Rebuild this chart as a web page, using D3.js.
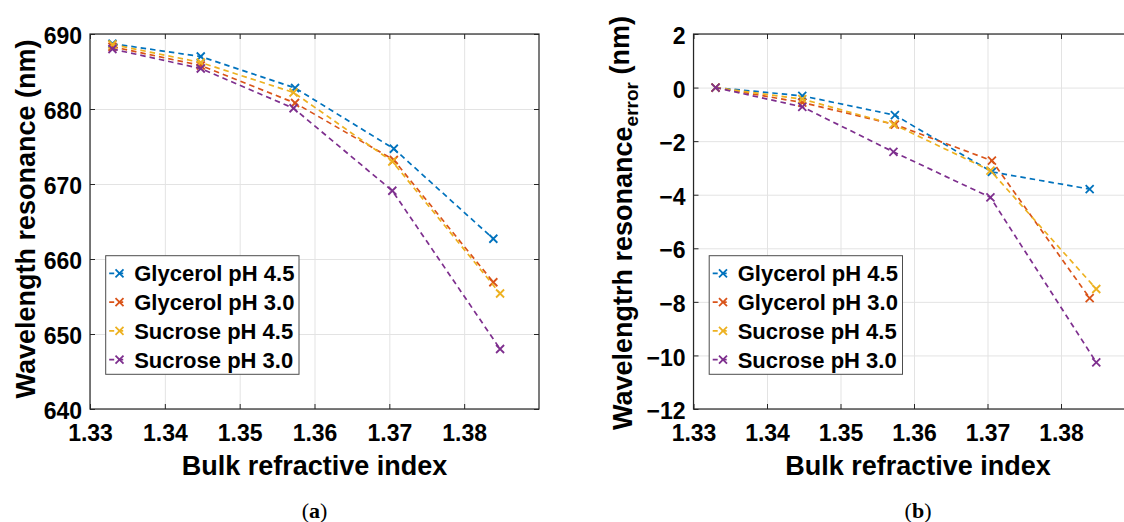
<!DOCTYPE html>
<html><head><meta charset="utf-8">
<script src="https://cdn.jsdelivr.net/npm/d3@7"></script>
<style>
body{margin:0;background:#fff;}
svg{display:block;font-family:"Liberation Sans",Arial,Helvetica,sans-serif;}
</style>
</head><body><svg id="c" width="1124" height="522"></svg>
<script>
// ---- data ----
const seriesNames = ["Glycerol pH 4.5", "Glycerol pH 3.0", "Sucrose pH 4.5", "Sucrose pH 3.0"];
const seriesColors = ["#0072BD", "#D95319", "#EDB120", "#7E2F8E"];
const xGlycerol = [1.333, 1.3448, 1.3574, 1.3706, 1.3839];
const xSucrose  = [1.333, 1.3448, 1.3572, 1.3704, 1.3848];

// panel (a): wavelength resonance (nm)
const resGly45 = [688.7, 687.0, 682.8, 674.7, 662.7];
const resGly30 = [688.3, 685.8, 680.8, 673.2, 656.9];
const resSuc45 = [688.6, 686.2, 682.2, 673.0, 655.4];
const resSuc30 = [688.0, 685.4, 680.1, 669.1, 648.0];

// panel (b): wavelength resonance error (nm)
const errGly45 = [0, -0.31, -1.03, -3.15, -3.79];
const errGly30 = [0, -0.56, -1.38, -2.73, -7.86];
const errSuc45 = [0, -0.43, -1.37, -3.10, -7.52];
const errSuc30 = [0, -0.72, -2.40, -4.10, -10.26];

const xTicks  = [1.33, 1.34, 1.35, 1.36, 1.37, 1.38];
const yTicksA = [640, 650, 660, 670, 680, 690];
const yTicksB = [-12, -10, -8, -6, -4, -2, 0, 2];
const xLabel = "Bulk refractive index";

const svg = d3.select("#c");
const TXT = "#000";
const AX = "#262626";

function drawPanel(o) {
  const g = svg.append("g");
  const x = d3.scaleLinear().domain([1.33, 1.39]).range([o.left, o.right]);
  const y = d3.scaleLinear().domain(o.yDomain).range([o.bottom, o.top]);
  const W = o.right - o.left, H = o.bottom - o.top;

  // grid
  g.append("g").attr("transform", `translate(0,${o.bottom})`)
    .call(d3.axisBottom(x).tickValues(xTicks).tickSize(-H).tickFormat(""))
    .call(s => { s.select(".domain").remove(); s.selectAll("line").attr("stroke", "#e3e3e3").attr("stroke-width", 1); });
  g.append("g").attr("transform", `translate(${o.left},0)`)
    .call(d3.axisLeft(y).tickValues(o.yTicks).tickSize(-W).tickFormat(""))
    .call(s => { s.select(".domain").remove(); s.selectAll("line").attr("stroke", "#e3e3e3").attr("stroke-width", 1); });

  // ticks (inward) + labels
  const fixAxis = s => { s.select(".domain").remove(); s.selectAll("line").attr("stroke", AX).attr("stroke-width", 1); };
  g.append("g").attr("transform", `translate(0,${o.bottom})`)
    .call(d3.axisBottom(x).tickValues(xTicks).tickSizeInner(-5).tickSizeOuter(0).tickPadding(16).tickFormat(d3.format(".2f")))
    .call(fixAxis)
    .call(s => s.selectAll("text").attr("fill", TXT).attr("font-size", 23).attr("font-weight", "bold")
      .attr("font-family", '"Liberation Sans",Arial,sans-serif'));
  g.append("g").attr("transform", `translate(0,${o.top})`)
    .call(d3.axisTop(x).tickValues(xTicks).tickSizeInner(-5).tickSizeOuter(0).tickFormat(""))
    .call(fixAxis);
  g.append("g").attr("transform", `translate(${o.left},0)`)
    .call(d3.axisLeft(y).tickValues(o.yTicks).tickSizeInner(-5).tickSizeOuter(0).tickPadding(8).tickFormat(d3.format("d")))
    .call(fixAxis)
    .call(s => s.selectAll("text").attr("fill", TXT).attr("font-size", 23).attr("font-weight", "bold").attr("dy", "0.42em")
      .attr("font-family", '"Liberation Sans",Arial,sans-serif'));
  g.append("g").attr("transform", `translate(${o.right},0)`)
    .call(d3.axisRight(y).tickValues(o.yTicks).tickSizeInner(-5).tickSizeOuter(0).tickFormat(""))
    .call(fixAxis);

  // box
  g.append("rect").attr("x", o.left).attr("y", o.top).attr("width", W).attr("height", H)
    .attr("fill", "none").attr("stroke", AX).attr("stroke-width", 1.2);

  // series
  const line = d3.line().x(d => x(d[0])).y(d => y(d[1]));
  o.series.forEach((vals, i) => {
    const xs = i < 2 ? xGlycerol : xSucrose;
    const pts = vals.map((v, j) => [xs[j], v]);
    g.append("path").datum(pts).attr("d", line).attr("fill", "none")
      .attr("stroke", seriesColors[i]).attr("stroke-width", 1.7).attr("stroke-dasharray", "5.5,4");
    g.selectAll(null).data(pts).enter().append("path")
      .attr("transform", d => `translate(${x(d[0])},${y(d[1])})`)
      .attr("d", "M-4,-4L4,4M-4,4L4,-4")
      .attr("stroke", seriesColors[i]).attr("stroke-width", 1.8).attr("fill", "none");
  });

  // x label
  g.append("text").attr("x", (o.left + o.left + 449) / 2).attr("y", 475)
    .attr("text-anchor", "middle").attr("font-size", 27).attr("font-weight", "bold").attr("fill", TXT)
    .text(xLabel);

  // y label
  const yl = g.append("text").attr("transform", `translate(${o.yLabelX},${o.yLabelY}) rotate(-90)`)
    .attr("text-anchor", "middle").attr("font-size", 27).attr("font-weight", "bold").attr("fill", TXT);
  o.yLabel(yl);

  // legend
  const lg = g.append("g").attr("transform", `translate(${o.left + 15.7},255.7)`);
  lg.append("rect").attr("width", 193.3).attr("height", 118.6).attr("fill", "#fff")
    .attr("stroke", "#4d4d4d").attr("stroke-width", 1);
  seriesNames.forEach((nm, i) => {
    const cy = 17.6 + i * 28.8;
    lg.append("line").attr("x1", 3.5).attr("x2", 21).attr("y1", cy).attr("y2", cy)
      .attr("stroke", seriesColors[i]).attr("stroke-width", 1.7).attr("stroke-dasharray", "5,4");
    lg.append("path").attr("transform", `translate(13.8,${cy})`).attr("d", "M-4,-4L4,4M-4,4L4,-4")
      .attr("stroke", seriesColors[i]).attr("stroke-width", 1.8);
    lg.append("text").attr("x", 28.5).attr("y", cy).attr("dy", "0.36em")
      .attr("font-size", 22).attr("font-weight", "bold").attr("fill", TXT).text(nm);
  });

  // caption
  const cap = svg.append("text").attr("x", o.left + 224.5).attr("y", 518).attr("text-anchor", "middle")
    .attr("font-family", '"Liberation Serif","Times New Roman",serif').attr("font-size", 22).attr("fill", TXT);
  cap.append("tspan").text("(");
  cap.append("tspan").attr("font-weight", "bold").text(o.caption);
  cap.append("tspan").text(")");
}

drawPanel({
  left: 90, right: 539, top: 34, bottom: 409,
  yDomain: [640, 690], yTicks: yTicksA,
  series: [resGly45, resGly30, resSuc45, resSuc30],
  yLabelX: 35, yLabelY: 219,
  yLabel: t => t.text("Wavelength resonance (nm)"),
  caption: "a"
});
drawPanel({
  left: 693.5, right: 1134.5, top: 34, bottom: 409,
  yDomain: [-12, 2], yTicks: yTicksB,
  series: [errGly45, errGly30, errSuc45, errSuc30],
  yLabelX: 632, yLabelY: 223,
  yLabel: t => {
    t.append("tspan").text("Wavelengtrh resonance");
    t.append("tspan").attr("font-size", 19).attr("dy", "0.32em").text("error");
    t.append("tspan").attr("dy", "-0.32em").text(" (nm)");
  },
  caption: "b"
});
</script>
</body></html>
